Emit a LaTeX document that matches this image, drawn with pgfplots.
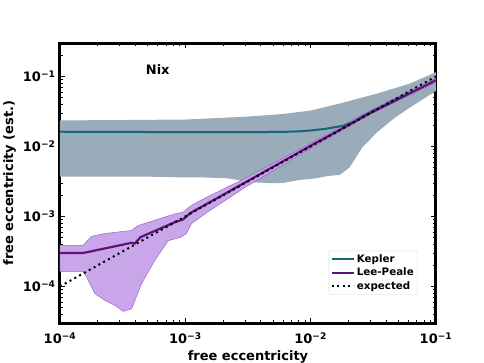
\documentclass[border=0pt]{standalone}
\usepackage{fontspec}
\setmainfont{DejaVu Sans}
\usepackage{pgfplots}
\pgfplotsset{compat=1.18}

\definecolor{kepband}{HTML}{9AABBA}
\definecolor{kepline}{HTML}{12677A}
\definecolor{lpband}{HTML}{C9A6EA}
\definecolor{lpedge}{HTML}{9A63C9}
\definecolor{lpline}{HTML}{5E1378}

\begin{document}
\begin{tikzpicture}
\useasboundingbox (-60pt,-40pt) rectangle (424pt,323pt);
\begin{axis}[%
at={(0,0)}, anchor=south west,
width=376pt, height=280pt,
scale only axis,
xmode=log, ymode=log,
xmin=1e-4, xmax=1e-1,
ymin=3e-5, ymax=3e-1,
axis line style={line width=3pt},
tick align=inside,
major tick length=5pt,
minor tick length=3pt,
every major tick/.style={black, line width=1pt},
every minor tick/.style={black, line width=0.6pt},
font=\bfseries\fontsize{13}{15}\selectfont,
xtick={1e-4,1e-3,1e-2,1e-1},
ytick={1e-4,1e-3,1e-2,1e-1},
minor xtick={2e-4,3e-4,4e-4,5e-4,6e-4,7e-4,8e-4,9e-4,2e-3,3e-3,4e-3,5e-3,6e-3,7e-3,8e-3,9e-3,2e-2,3e-2,4e-2,5e-2,6e-2,7e-2,8e-2,9e-2},
minor ytick={3e-5,4e-5,5e-5,6e-5,7e-5,8e-5,9e-5,2e-4,3e-4,4e-4,5e-4,6e-4,7e-4,8e-4,9e-4,2e-3,3e-3,4e-3,5e-3,6e-3,7e-3,8e-3,9e-3,2e-2,3e-2,4e-2,5e-2,6e-2,7e-2,8e-2,9e-2,2e-1,3e-1},
xticklabels={10\textsuperscript{−4},10\textsuperscript{−3},10\textsuperscript{−2},10\textsuperscript{−1}},
yticklabels={10\textsuperscript{−4},10\textsuperscript{−3},10\textsuperscript{−2},10\textsuperscript{−1}},
xticklabel style={yshift=-6pt},
yticklabel style={xshift=-1pt},
xlabel={free eccentricity},
ylabel={free eccentricity (est.)},
legend style={at={(0.952,0.1)}, anchor=south east, draw=black!15, rounded corners=2pt,
  font=\bfseries\fontsize{10.3}{12}\selectfont, fill=white, row sep=0pt, inner sep=2pt},
legend cell align=left,
legend image code/.code={\draw[#1] (0pt,0pt) -- (22pt,0pt);}
]
% Kepler band
\addplot[fill=kepband, draw=none, forget plot] coordinates {
(1e-4,0.0235) (3e-4,0.0238) (1e-3,0.0242) (3e-3,0.0265) (6e-3,0.029) (1e-2,0.0325)
(1.8e-2,0.042) (3.4e-2,0.057) (6.2e-2,0.079) (0.1,0.115)
(0.1,0.062) (6.2e-2,0.036) (4.6e-2,0.025) (3.4e-2,0.016) (2.6e-2,0.0098) (2.04e-2,0.005)
(1.8e-2,0.0042) (1.7e-2,0.0039) (1.4e-2,0.0038) (1.1e-2,0.0035) (8e-3,0.0033) (6e-3,0.0030)
(4.5e-3,0.0030) (3.2e-3,0.0031) (2.2e-3,0.0035) (1.4e-3,0.0036) (1e-3,0.0036) (5e-4,0.0037)
(2e-4,0.0037) (1e-4,0.0037) (1e-4,0.0235)
};
% Lee-Peale band
\addplot[fill=lpband, draw=lpedge, line width=0.5pt, forget plot] coordinates {
(1e-4,3.86e-4) (1.53e-4,3.86e-4) (1.79e-4,5.2e-4) (2.29e-4,5.7e-4) (3.73e-4,6.3e-4) (4.2e-4,7.4e-4)
(8.3e-4,1.09e-3) (9.6e-4,1.15e-3) (1.12e-3,1.44e-3) (1.5e-3,1.9e-3) (3e-3,3.5e-3) (1e-2,0.011)
(3e-2,0.033) (0.1,0.095)
(0.1,0.082) (3e-2,0.029) (1e-2,0.0094) (3e-3,2.6e-3) (1.5e-3,1.15e-3) (1.12e-3,7.9e-4)
(1.02e-3,5.7e-4) (9.1e-4,5.0e-4) (7.3e-4,4.5e-4) (5.7e-4,2.35e-4) (4.47e-4,1.09e-4) (3.73e-4,4.8e-5)
(3.2e-4,4.4e-5) (2.75e-4,5.35e-5) (2.29e-4,6.3e-5) (1.9e-4,7.9e-5) (1.63e-4,1.36e-4) (1.53e-4,1.64e-4)
(1e-4,1.64e-4) (1e-4,3.86e-4)
};
\addplot[kepline, line width=2pt, forget plot] coordinates {
(1e-4,0.0162) (3e-4,0.0161) (1e-3,0.0160) (3e-3,0.0160) (6e-3,0.0161) (8e-3,0.0164)
(1e-2,0.0169) (1.3e-2,0.0178) (1.8e-2,0.0196) (2.2e-2,0.0225) (2.6e-2,0.027) (3e-2,0.031)
(3.5e-2,0.0355) (5e-2,0.049) (7e-2,0.064) (0.1,0.089)
};
\addplot[lpline, line width=2.2pt, forget plot] coordinates {
(1e-4,3.0e-4) (1.53e-4,3.0e-4) (3.73e-4,4.2e-4) (3.95e-4,4.1e-4) (4.4e-4,5.06e-4) (8.3e-4,8.3e-4)
(9.6e-4,9.05e-4) (1.09e-3,1.11e-3) (3e-3,3.05e-3) (1e-2,0.0102) (3e-2,0.030) (0.1,0.088)
};
\addplot[black, line width=2pt, dash pattern=on 2pt off 3.5pt, forget plot] coordinates {
(1e-4,1e-4) (0.1,0.1)
};
\addlegendimage{kepline, line width=2pt}
\addlegendentry{Kepler}
\addlegendimage{lpline, line width=2pt}
\addlegendentry{Lee-Peale}
\addlegendimage{black, line width=2pt, dash pattern=on 2pt off 3.5pt}
\addlegendentry{expected}
\node[font=\bfseries\fontsize{13}{15}\selectfont] at (rel axis cs:0.26,0.904) {Nix};
\end{axis}
\end{tikzpicture}
\end{document}
